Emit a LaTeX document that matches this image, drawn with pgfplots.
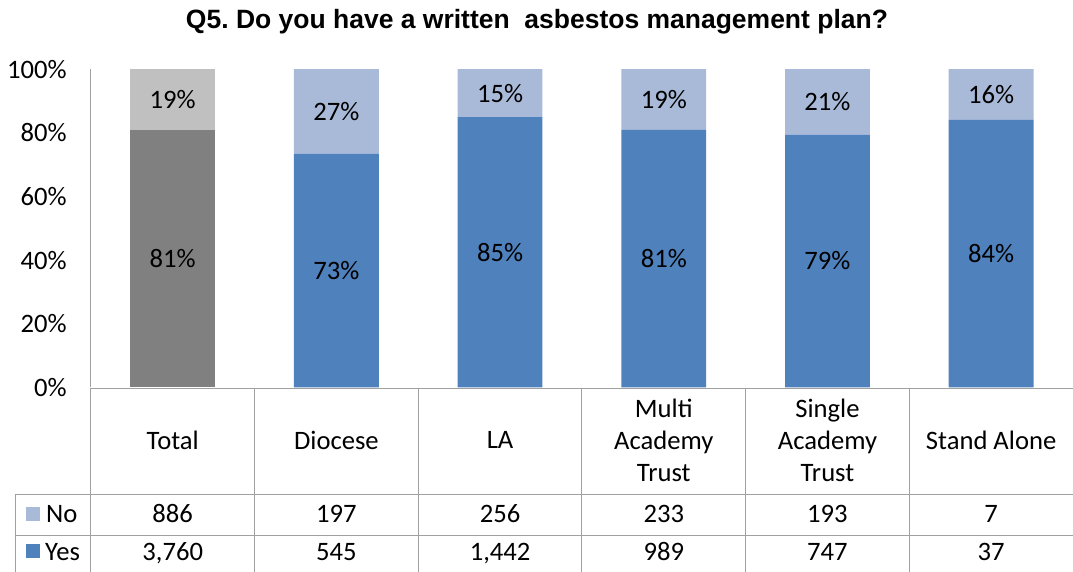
\documentclass[border=0pt]{standalone}
\usepackage{pgfplots}
\pgfplotsset{compat=1.18}
\usepackage{fontspec}
\setmainfont{Carlito}
\newfontfamily\titlefont{Liberation Sans}
\definecolor{yesblue}{HTML}{4F81BD}
\definecolor{noblue}{HTML}{A9BAD9}
\definecolor{dkgray}{HTML}{808080}
\definecolor{ltgray}{HTML}{C0C0C0}
\definecolor{gridc}{HTML}{A0A0A0}
\newcommand{\fsz}{\fontsize{20}{24}\selectfont}
\frenchspacing
\begin{document}
\begin{tikzpicture}
\begin{axis}[
  at={(68.25pt,-291pt)}, anchor=south west,
  scale only axis, width=738pt, height=239pt,
  xmin=-0.5, xmax=5.5, ymin=0, ymax=100,
  ybar stacked, bar width=63.75pt,
  axis lines*=left,
  x axis line style={draw=none},
  y axis line style={-, draw=gridc, line width=0.75pt},
  xtick=\empty,
  ytick={0,20,40,60,80,100},
  yticklabel={\pgfmathprintnumber{\tick}\%},
  ytick style={draw=none},
  major tick length=0pt,
  yticklabel style={font=\fsz, anchor=east, inner sep=0pt, xshift=-18pt},
  /pgf/number format/assume math mode=true,
  clip=false,
]
\addplot[fill=dkgray, draw=none] coordinates {(0,80.93) (1,0) (2,0) (3,0) (4,0) (5,0)};
\addplot[fill=yesblue, draw=none] coordinates {(0,0) (1,73.45) (2,84.92) (3,80.93) (4,79.47) (5,84.09)};
\addplot[fill=ltgray, draw=none] coordinates {(0,19.07) (1,0) (2,0) (3,0) (4,0) (5,0)};
\addplot[fill=noblue, draw=none] coordinates {(0,0) (1,26.55) (2,15.08) (3,19.07) (4,20.53) (5,15.91)};
% label anchors
\coordinate (y0) at (axis cs:0,40.47);
\coordinate (y1) at (axis cs:1,36.73);
\coordinate (y2) at (axis cs:2,42.46);
\coordinate (y3) at (axis cs:3,40.47);
\coordinate (y4) at (axis cs:4,39.74);
\coordinate (y5) at (axis cs:5,42.05);
\coordinate (n0) at (axis cs:0,90.47);
\coordinate (n1) at (axis cs:1,86.73);
\coordinate (n2) at (axis cs:2,92.46);
\coordinate (n3) at (axis cs:3,90.47);
\coordinate (n4) at (axis cs:4,89.74);
\coordinate (n5) at (axis cs:5,92.05);
\end{axis}
\foreach \c/\t in {y0/81,y1/73,y2/85,y3/81,y4/79,y5/84,n0/19,n1/27,n2/15,n3/19,n4/21,n5/16} {
  \node[font=\fsz] at (\c) {\t\%};
}
\begin{scope}[x=0.75pt, y=-0.75pt]
  \useasboundingbox (0,0) rectangle (1073,573);
  \node[font=\titlefont\bfseries\fontsize{19.9}{22}\selectfont] at (538,22) {Q5. Do you have a written\ \ asbestos management plan?};
  % table grid
  \draw[gridc, line width=0.75pt] (91,389) -- (1076,389);
  \draw[gridc, line width=0.75pt] (16,495) -- (1076,495);
  \draw[gridc, line width=0.75pt] (16,536) -- (1076,536);
  \draw[gridc, line width=0.75pt] (16,495) -- (16,580);
  \foreach \xx in {91,255,419,583,747,911} {
    \draw[gridc, line width=0.75pt] (\xx,389) -- (\xx,580);
  }
  % header labels
  \node[font=\fsz, align=center] at (173,441) {Total};
  \node[font=\fsz, align=center] at (337,441) {Diocese};
  \node[font=\fsz, align=center] at (501,441) {LA};
  \node[font=\fsz, align=center] at (665,441) {Multi\\Academy\\Trust};
  \node[font=\fsz, align=center] at (829,441) {Single\\Academy\\Trust};
  \node[font=\fsz, align=center] at (993,441) {Stand Alone};
  % legend keys
  \fill[noblue] (26,508) rectangle (40,522);
  \fill[yesblue] (26,545) rectangle (40,559);
  \node[font=\fsz, anchor=base west, inner sep=0pt] at (46,523.5) {No};
  \node[font=\fsz, anchor=base west, inner sep=0pt] at (45,561.5) {Yes};
  % values
  \foreach \xx/\nn/\yy in {173/886/{3,760}, 337/197/545, 501/256/{1,442}, 665/233/989, 829/193/747, 993/7/37} {
    \node[font=\fsz, anchor=base] at (\xx,523.5) {\nn};
    \node[font=\fsz, anchor=base] at (\xx,561.5) {\yy};
  }
\end{scope}
\end{tikzpicture}
\end{document}
